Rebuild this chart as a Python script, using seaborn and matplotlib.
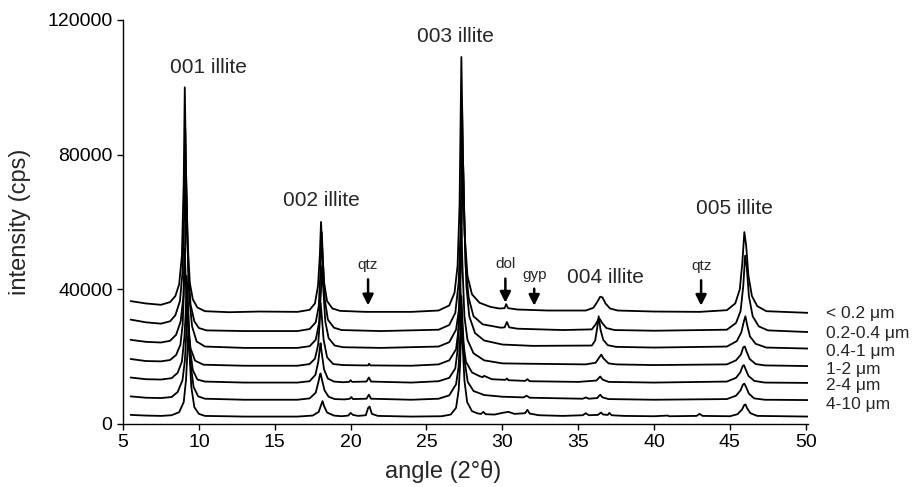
import matplotlib
matplotlib.use("Agg")
import matplotlib.pyplot as plt
import seaborn as sns
import pandas as pd

# XRD traces (angle in 2-theta, intensity in cps, stacked as plotted)
trace_lt02 = [(5.5,36500),(6.5,35800),(7.5,35400),(8.1,36200),(8.45,38000),(8.7,41500),(8.88,50000),(9.0,72000),(9.07,100000),(9.15,76000),(9.26,54000),(9.4,42000),(9.6,37000),(9.9,34600),(10.4,33500),
              (12,33200),(14,33400),(16.5,33300),(17.3,33900),(17.65,35800),(17.85,41000),(17.97,50000),(18.05,60000),(18.13,52000),(18.25,42000),(18.45,36500),(18.8,34300),(19.3,33600),
              (21,33300),(24,33300),(25.8,33700),(26.5,35200),(26.85,39000),(27.05,47000),(27.18,65000),(27.3,109000),(27.4,80000),(27.52,56000),(27.7,44000),(28.0,38500),(28.5,36000),(29.2,34800),
              (29.8,34300),(30.15,34400),(30.25,35600),(30.38,34400),(31,34000),(33,33700),(35.5,33700),(36.0,34500),(36.25,36200),(36.45,37800),(36.6,37600),(36.8,35800),(37.1,34300),(37.6,33700),
              (40,33400),(43,33300),(44.8,33800),(45.35,35800),(45.65,40000),(45.82,48000),(45.95,57000),(46.07,53000),(46.22,44000),(46.45,38000),(46.8,35000),(47.4,33500),(50.2,33000)]
trace_02_04 = [(5.5,31000),(6.5,30200),(7.5,29800),(8.1,30500),(8.45,32300),(8.75,36500),(8.92,45000),(9.03,62000),(9.1,88000),(9.18,68000),(9.3,46000),(9.45,35500),(9.7,30500),(10.0,28500),(10.5,27800),
               (13,27600),(16.5,27600),(17.3,28200),(17.7,30200),(17.9,35000),(18.02,46000),(18.1,57000),(18.18,48000),(18.3,37000),(18.5,31000),(18.9,28600),(19.4,27900),
               (22,27600),(25.8,28000),(26.5,29400),(26.9,33000),(27.12,42000),(27.25,58000),(27.35,93000),(27.45,68000),(27.58,47000),(27.78,37500),(28.1,32000),(28.7,29600),
               (29.9,28600),(30.15,28700),(30.3,30300),(30.45,28700),(31,28300),(34,27900),(35.9,28100),(36.15,29600),(36.32,31000),(36.42,31200),(36.58,30000),(36.85,28500),(37.4,27900),
               (40,27700),(44.8,28000),(45.4,30000),(45.7,33500),(45.88,41000),(46.0,50000),(46.1,47000),(46.25,38000),(46.5,32000),(46.9,29000),(47.5,27800),(50.2,27300)]
trace_04_1 = [(5.5,25000),(6.5,24400),(7.5,24200),(8.1,24700),(8.5,26500),(8.8,30500),(8.98,38000),(9.08,50000),(9.15,72000),(9.23,56000),(9.36,38000),(9.55,29000),(9.85,24500),(10.4,23000),
              (13,22600),(16.5,22600),(17.3,23100),(17.7,25000),(17.92,30000),(18.04,39000),(18.12,47000),(18.2,40000),(18.33,30500),(18.55,25500),(18.95,23300),(19.5,22800),
              (22,22600),(25.8,23000),(26.5,24300),(26.95,28000),(27.17,35000),(27.3,52000),(27.4,80000),(27.5,60000),(27.63,41000),(27.82,32000),(28.2,27000),(28.8,24800),
              (30,23600),(32,23200),(35.9,23300),(36.12,24800),(36.25,28500),(36.35,32000),(36.47,28000),(36.65,25000),(36.95,23400),(37.5,22900),
              (40,22700),(44.8,23000),(45.45,24600),(45.75,27200),(45.92,30500),(46.02,32000),(46.13,29500),(46.32,26000),(46.7,23800),(47.4,22700),(50.2,22400)]
trace_1_2 = [(5.5,19300),(6.5,18700),(7.5,18600),(8.1,19000),(8.5,20500),(8.78,23500),(8.93,29500),(9.0,38000),(9.06,52000),(9.14,42000),(9.26,30000),(9.45,22500),(9.75,18800),(10.3,17600),
             (13,17300),(16.5,17300),(17.3,17800),(17.65,19400),(17.86,23500),(17.96,30000),(18.02,36000),(18.1,32000),(18.22,25000),(18.45,19800),(18.85,17800),(19.5,17500),
             (20.8,17400),(21.15,17400),(21.22,17900),(21.3,17400),(24,17300),(25.8,17700),(26.5,18900),(26.95,22200),(27.12,28500),(27.22,40000),(27.3,58000),(27.38,46000),(27.5,32000),(27.7,25000),(28.1,21000),(28.8,18900),
             (30,18000),(31.6,17900),(35.5,17700),(36.15,18200),(36.38,19700),(36.52,20600),(36.68,19400),(37.0,18000),(37.5,17700),
             (40,17500),(44.8,17700),(45.4,18900),(45.72,20600),(45.88,22800),(45.98,23000),(46.1,21500),(46.3,19300),(46.7,17800),(47.3,17400),(50.2,17200)]
trace_2_4 = [(5.5,13800),(6.5,13300),(7.5,13200),(8.2,13600),(8.6,15200),(8.88,18500),(9.05,26000),(9.13,33000),(9.2,44000),(9.28,35000),(9.4,23000),(9.6,16000),(9.9,13200),(10.4,12600),
             (13,12300),(16.5,12300),(17.3,12700),(17.68,14600),(17.87,18500),(17.96,22000),(18.02,24000),(18.1,21000),(18.25,16200),(18.5,13500),(18.9,12600),
             (19.5,12400),(19.9,12500),(20.0,13000),(20.1,12500),(21.05,12600),(21.2,13800),(21.35,12600),(24,12300),(25.8,12700),(26.5,13700),(26.9,16500),(27.05,22000),(27.13,30000),(27.2,44000),(27.28,36000),(27.4,25000),(27.6,18500),(28.0,15300),(28.5,14200),
             (28.7,13900),(28.8,14300),(29.3,13300),(30.2,13100),(30.3,13500),(30.4,13000),(31.5,12800),(31.65,13300),(31.8,12700),(35,12500),(36.2,12900),(36.45,14100),(36.6,13200),(37,12500),
             (40,12300),(44.8,12600),(45.4,13700),(45.68,15300),(45.84,17200),(45.92,17500),(46.03,16300),(46.22,14300),(46.6,12800),(47.3,12300),(50.2,12200)]
trace_4_10 = [(5.5,8200),(6.5,7800),(7.5,7700),(8.2,8000),(8.6,9500),(8.92,13000),(9.08,19000),(9.17,27000),(9.25,38000),(9.33,29000),(9.45,18000),(9.65,11000),(9.95,8200),(10.4,7500),
              (13,7200),(16.5,7200),(17.3,7600),(17.7,9300),(17.88,12500),(17.97,14500),(18.02,15000),(18.12,13000),(18.28,10000),(18.55,8100),(18.95,7400),
              (19.6,7300),(19.95,7500),(20.05,8000),(20.15,7400),(21.05,7500),(21.2,8700),(21.35,7500),(24,7200),(25.8,7500),(26.5,8500),(26.95,11800),(27.12,17000),(27.22,26000),(27.3,38000),(27.38,30000),(27.5,19000),(27.72,12500),(28.1,9800),(28.8,8600),
              (30,8100),(31.4,7900),(31.6,8400),(31.8,7800),(35.3,7500),(35.5,7900),(35.7,7500),(36.25,7700),(36.45,8700),(36.6,7900),(37,7400),
              (40,7200),(44.8,7400),(45.4,8400),(45.7,10000),(45.86,11700),(45.95,12000),(46.06,11000),(46.25,9000),(46.6,7600),(47.3,7200),(50.2,7100)]
trace_bottom = [(5.5,2700),(6.5,2500),(7.5,2400),(8.2,2600),(8.7,3500),(9.0,6500),(9.15,13000),(9.23,20000),(9.3,28000),(9.38,21000),(9.5,11000),(9.7,5000),(10.0,3000),(10.4,2400),
                (13,2200),(16.5,2200),(17.5,2500),(17.9,3600),(18.05,5600),(18.15,6800),(18.25,5300),(18.45,3400),(18.9,2500),
                (19.4,2300),(19.85,2500),(20.0,3300),(20.15,2700),(20.5,2400),(21.0,2600),(21.15,4700),(21.25,5200),(21.4,3000),(21.8,2400),(24,2200),
                (26.0,2300),(26.6,2800),(26.95,4800),(27.12,10000),(27.22,18000),(27.3,32000),(27.38,24000),(27.5,13000),(27.68,6500),(28.0,3800),(28.4,3100),
                (28.6,3000),(28.75,3600),(28.9,2900),(29.5,2800),(30.0,3300),(30.4,3600),(30.8,3000),(31.5,3200),(31.65,4200),(31.8,3100),(32.4,2600),(34,2400),
                (35.3,2600),(35.5,3200),(35.7,2600),(36.3,2700),(36.5,3400),(36.65,2800),(36.95,2700),(37.05,3300),(37.2,2600),(38,2400),
                (40,2300),(40.9,2500),(41,2300),(42.8,2400),(43.0,3000),(43.2,2400),(45.0,2300),(45.5,2900),(45.8,4300),(45.95,5700),(46.03,5800),(46.13,4700),(46.35,3200),(46.8,2400),(50.2,2200)]

traces = [trace_lt02, trace_02_04, trace_04_1, trace_1_2, trace_2_4, trace_4_10, trace_bottom]
size_labels = ["< 0.2 μm", "0.2-0.4 μm", "0.4-1 μm", "1-2 μm", "2-4 μm", "4-10 μm"]

peak_labels = ["001 illite", "002 illite", "003 illite", "004 illite", "005 illite"]
peak_angles = [10.6, 18.05, 26.9, 36.8, 45.3]
phase_labels = ["qtz", "dol", "gyp", "qtz"]
phase_angles = [21.15, 30.2, 32.1, 43.1]

rows = []
for i, tr in enumerate(traces):
    for a, c in tr:
        rows.append({"angle": a, "counts": c, "sample": i})
df = pd.DataFrame(rows)

sns.set_style("ticks")
plt.rcParams["font.family"] = ["Liberation Sans", "DejaVu Sans"]

fig = plt.figure(figsize=(9.14, 4.87), dpi=100)
ax = fig.add_axes([0.1346, 0.1294, 0.7495, 0.8296])

sns.lineplot(data=df, x="angle", y="counts", units="sample", estimator=None,
             sort=False, color="black", lw=1.3, ax=ax)

ax.set_xlim(5, 50.15)
ax.set_ylim(0, 120000)
ax.set_xticks(range(5, 51, 5))
ax.set_yticks([0, 40000, 80000, 120000])
ax.tick_params(direction="out", length=4, width=1, labelsize=14, colors="black")
sns.despine(ax=ax)
for s in ["left", "bottom"]:
    ax.spines[s].set_color("black")
    ax.spines[s].set_linewidth(1)

ax.set_xlabel("angle (2°θ)", fontsize=17)
ax.set_ylabel("intensity (cps)", fontsize=17)
ax.xaxis.set_label_coords(0.467, -0.088)
ax.yaxis.set_label_coords(-0.135, 0.5)

# peak annotations
peak_y = [106000, 66500, 115000, 43500, 64000]
for lab, a, y in zip(peak_labels, peak_angles, peak_y):
    ax.text(a, y, lab, fontsize=15, ha="center", va="center")

# phase arrows
arrow_top = [43800, 44000, 41000, 43500]
arrow_tip = [34400, 35200, 34300, 34300]
for lab, a, y0, y1 in zip(phase_labels, phase_angles, arrow_top, arrow_tip):
    ax.annotate("", xy=(a, y1), xytext=(a, y0),
                arrowprops=dict(arrowstyle="-|>", color="black", lw=1.8, mutation_scale=16))
    ax.text(a, y0 + 1300, lab, fontsize=11, ha="center", va="bottom")

# sample size labels next to the trace ends
label_y = [32900, 27000, 21400, 16300, 11300, 5900]
for lab, y in zip(size_labels, label_y):
    ax.text(51.3, y, lab, fontsize=12.5, ha="left", va="center", clip_on=False)

fig.savefig("out.png", dpi=100)
